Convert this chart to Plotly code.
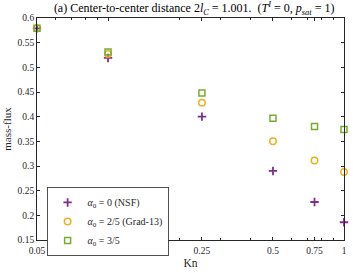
import plotly.graph_objects as go

kn = [0.05, 0.1, 0.25, 0.5, 0.75, 1.0]
flux_nsf = [0.579, 0.519, 0.400, 0.290, 0.227, 0.186]
flux_grad13 = [0.579, 0.527, 0.428, 0.350, 0.311, 0.288]
flux_35 = [0.579, 0.531, 0.448, 0.397, 0.380, 0.374]

x_ticks = [0.05, 0.1, 0.25, 0.5, 0.75, 1]
x_tick_labels = ["0.05", "0.1", "0.25", "0.5", "0.75", "1"]
x_minor = [0.06, 0.07, 0.08, 0.09, 0.2, 0.3, 0.4, 0.6, 0.7, 0.8, 0.9]
y_ticks = [0.15, 0.2, 0.25, 0.3, 0.35, 0.4, 0.45, 0.5, 0.55, 0.6]
y_tick_labels = ["0.15", "0.2", "0.25", "0.3", "0.35", "0.4", "0.45", "0.5", "0.55", "0.6"]

FONT = "Liberation Serif"
purple = "#7E2F8E"
orange = "#EDB120"
green = "#77AC30"

fig = go.Figure()
fig.add_trace(go.Scatter(
    x=kn, y=flux_nsf, mode="markers", name="<i>α</i><sub>0</sub> = 0 (NSF)", cliponaxis=False,
    marker=dict(symbol="cross-thin", size=6, line=dict(color=purple, width=1.8), color=purple)))
fig.add_trace(go.Scatter(
    x=kn, y=flux_grad13, mode="markers", name="<i>α</i><sub>0</sub> = 2/5 (Grad-13)", cliponaxis=False,
    marker=dict(symbol="circle-open", size=6.5, line=dict(color=orange, width=1.5), color=orange)))
fig.add_trace(go.Scatter(
    x=kn, y=flux_35, mode="markers", name="<i>α</i><sub>0</sub> = 3/5", cliponaxis=False,
    marker=dict(symbol="square-open", size=6, line=dict(color=green, width=1.5), color=green)))

axis_common = dict(showline=True, linecolor="#262626", linewidth=0.8, mirror="ticks",
                   ticks="inside", ticklen=3, tickcolor="#262626", tickwidth=0.8,
                   showgrid=False, zeroline=False,
                   tickfont=dict(family=FONT, size=9.5, color="#262626"))

fig.update_xaxes(type="log", range=[-1.30103, 0], tickvals=x_ticks, ticktext=x_tick_labels,
                 minor=dict(tickvals=x_minor, ticks="inside", ticklen=2, tickcolor="#262626", tickwidth=0.8),
                 title=dict(text="Kn", font=dict(family=FONT, size=11.5, color="#262626"), standoff=3),
                 ticklabelstandoff=2,
                 **axis_common)
fig.update_yaxes(range=[0.15, 0.6], tickvals=y_ticks, ticktext=y_tick_labels,
                 title=dict(text="mass-flux", font=dict(family=FONT, size=11, color="#262626"), standoff=3),
                 **axis_common)

fig.update_layout(
    width=353, height=273,
    margin=dict(l=37, r=6, t=18, b=28),
    paper_bgcolor="white", plot_bgcolor="white",
    title=dict(text="(a) Center-to-center distance 2<i>l</i><sub><i>C</i></sub> = 1.001.  (<i>T</i><sup><i>I</i></sup> = 0, <i>p</i><sub><i>sat</i></sub> = 1)",
               font=dict(family=FONT, size=12, color="black"),
               x=0.55, xanchor="center", y=0.985, yanchor="top"),
    showlegend=True,
    legend=dict(x=0.032, y=0.238, xanchor="left", yanchor="top",
                bordercolor="#262626", borderwidth=0.8, bgcolor="white",
                font=dict(family=FONT, size=10, color="#262626"),
                itemwidth=30, tracegroupgap=0),
)

fig.write_html("out.html", config={"displayModeBar": False},
               post_script="document.body.style.margin='0';document.body.style.overflow='hidden';")
